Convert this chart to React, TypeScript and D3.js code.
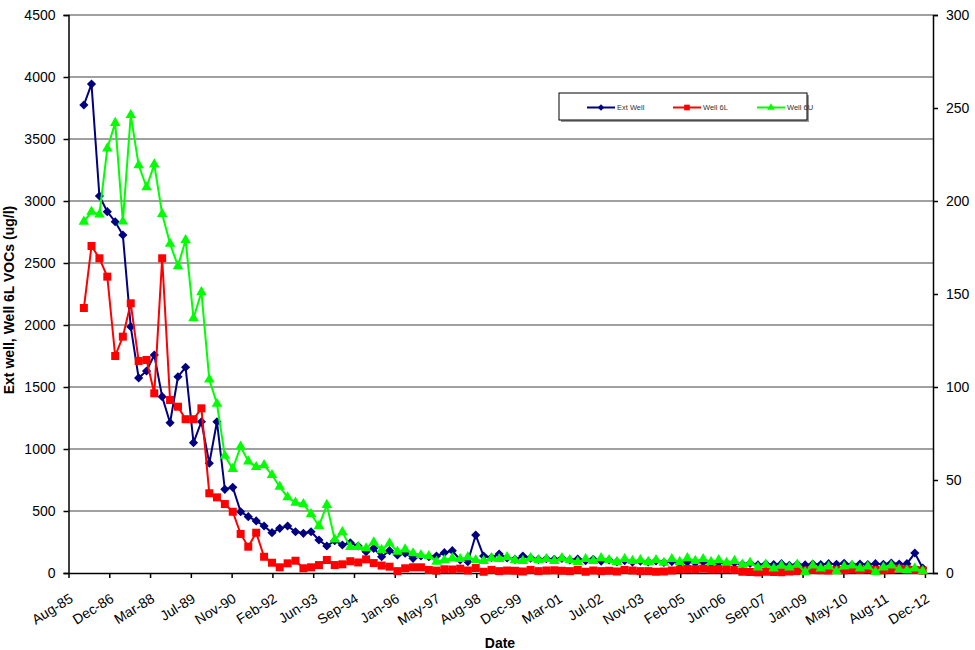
import React, { useRef, useEffect } from "react";
import * as d3 from "d3";

// quarterly sampling, Feb-86 .. Nov-12
const firstSample = new Date(1986, 1, 15);

// Ext Well (ug/l, left axis)
const extWell = [
  3774, 3943, 3040, 2914, 2833, 2726, 1986, 1573, 1629, 1758, 1422, 1212,
  1583, 1659, 1051, 1220, 885, 1220, 675, 691, 494, 454, 420, 379,
  325, 360, 379, 333, 320, 333, 266, 218, 260, 226, 244, 218,
  172, 199, 131, 180, 145, 159, 118, 137, 131, 137, 164, 180,
  105, 91, 306, 137, 125, 153, 121, 110, 137, 120, 110, 115,
  110, 118, 105, 112, 100, 110, 95, 105, 91, 100, 88, 95,
  90, 98, 85, 92, 80, 88, 82, 90, 78, 85, 75, 82,
  70, 78, 65, 72, 68, 75, 62, 70, 65, 72, 68, 75,
  70, 78, 65, 72, 68, 75, 70, 80, 72, 75, 161, 40,
];

// Well 6L (ug/l, left axis)
const well6L = [
  2137, 2637, 2538, 2390, 1750, 1906, 2175, 1710, 1718, 1449, 2538, 1395,
  1341, 1240, 1240, 1328, 643, 610, 556, 494, 315, 212, 325, 131,
  83, 46, 78, 99, 38, 46, 64, 105, 64, 70, 95, 85,
  110, 80, 60, 51, 15, 38, 46, 46, 24, 19, 30, 28,
  35, 20, 40, 10, 25, 15, 20, 18, 12, 25, 15, 20,
  22, 18, 15, 25, 10, 20, 15, 18, 12, 25, 20, 15,
  15, 10, 12, 20, 28, 32, 30, 35, 28, 32, 30, 25,
  10, 8, 5, 10, 8, 6, 12, 15, 20, 25, 22, 20,
  25, 22, 28, 24, 30, 26, 22, 28, 35, 30, 25, 20,
];

// Well 6U (ug/l, right axis)
const well6U = [
  188.9, 194.2, 192.8, 228.3, 242, 189, 246.2, 219.3, 207.4, 219.7, 193, 177,
  165, 179, 137, 151, 104, 91, 63, 56, 68, 60, 57, 58,
  52.7, 46.4, 40.7, 37.8, 37.1, 31.7, 25.3, 36.6, 18, 22, 14, 14,
  13.3, 16.5, 12.4, 16, 11.5, 12.7, 10.6, 9.7, 9.1, 6.1, 7, 8,
  7.5, 8.5, 7, 6.5, 8, 7.5, 8.5, 7, 6.5, 8, 7, 7.5,
  6.5, 8, 7, 6, 7.5, 6.5, 8, 7, 6, 7.5, 6.5, 7,
  6, 7, 5.5, 7.5, 6, 8, 6.5, 7.5, 6, 7, 5.5, 6.5,
  4.5, 5.5, 3, 4.5, 2.5, 4, 3, 4.5, 0.5, 4, 2.5, 3.5,
  1, 3.5, 4, 2.5, 3.5, 0.5, 3, 4, 2, 1.5, 2.5, 1,
];

const seriesNames = ["Ext Well", "Well 6L", "Well 6U"];
const seriesColors = ["#000080", "#ff0000", "#00ff00"];

const leftTicks = [0, 500, 1000, 1500, 2000, 2500, 3000, 3500, 4000, 4500];
const rightTicks = [0, 50, 100, 150, 200, 250, 300];
const xTickStart = new Date(1985, 7, 20);
const xTickDays = 475;
const xTickCount = 22;

const App: React.FC = () => {
  const svgRef = useRef<SVGSVGElement | null>(null);

  useEffect(() => {
    const width = 975;
    const height = 650;
    const left = 68.5;
    const right = 933;
    const top = 15;
    const bottom = 573;
    const font = "Arial, 'Liberation Sans', sans-serif";

    const svg = d3.select(svgRef.current);
    svg.selectAll("*").remove();
    svg.attr("width", width).attr("height", height).style("background", "#fff");

    const dates = extWell.map((_, i) => d3.timeMonth.offset(firstSample, i * 3));

    const x = d3
      .scaleTime()
      .domain([xTickStart, new Date(2013, 2, 15)])
      .range([left, right]);
    const yL = d3.scaleLinear().domain([0, 4500]).range([bottom, top]);
    const yR = d3.scaleLinear().domain([0, 300]).range([bottom, top]);

    // gridlines
    svg
      .append("g")
      .selectAll("line")
      .data(leftTicks.slice(1))
      .join("line")
      .attr("x1", left)
      .attr("x2", right)
      .attr("y1", (d) => yL(d))
      .attr("y2", (d) => yL(d))
      .attr("stroke", "#808080")
      .attr("stroke-width", 1.5);

    // left axis
    const gl = svg
      .append("g")
      .attr("transform", `translate(${left},0)`)
      .call(d3.axisLeft(yL).tickValues(leftTicks).tickFormat(d3.format("d")).tickSize(5).tickPadding(8));
    gl.selectAll("text").style("font", `14px ${font}`).attr("fill", "#000");
    gl.selectAll("line, path").attr("stroke", "#000").attr("stroke-width", 1.5);

    // right axis
    const gr = svg
      .append("g")
      .attr("transform", `translate(${right},0)`)
      .call(d3.axisRight(yR).tickValues(rightTicks).tickFormat(d3.format("d")).tickSize(5).tickPadding(8));
    gr.selectAll("text").style("font", `14px ${font}`).attr("fill", "#000");
    gr.selectAll("line, path").attr("stroke", "#000").attr("stroke-width", 1.5);

    // bottom axis
    const xTicks = d3.range(xTickCount).map((i) => d3.timeDay.offset(xTickStart, i * xTickDays));
    const gb = svg
      .append("g")
      .attr("transform", `translate(0,${bottom})`)
      .call(
        d3
          .axisBottom(x)
          .tickValues(xTicks)
          .tickFormat((d) => d3.timeFormat("%b-%y")(d as Date))
          .tickSize(5)
          .tickSizeOuter(0)
      );
    gb.selectAll("line, path").attr("stroke", "#000").attr("stroke-width", 1.5);
    gb.selectAll("text")
      .style("font", `14px ${font}`)
      .attr("fill", "#000")
      .attr("text-anchor", "end")
      .attr("dy", null)
      .attr("y", 0)
      .attr("transform", "translate(5,28) rotate(-32)");

    // series
    const data = [extWell, well6L];
    const symbols = [d3.symbolSquare, d3.symbolSquare, d3.symbolTriangle];
    const sizes = [42, 64, 48];
    const all = [...data.map((v) => ({ v, y: yL })), { v: well6U, y: yR }];

    all.forEach((s, k) => {
      const g = svg.append("g");
      const line = d3
        .line<number>()
        .x((_, i) => x(dates[i]))
        .y((d) => s.y(d));
      g.append("path")
        .datum(s.v)
        .attr("d", line)
        .attr("fill", "none")
        .attr("stroke", seriesColors[k])
        .attr("stroke-width", 2);
      g.selectAll("path.m")
        .data(s.v)
        .join("path")
        .attr("class", "m")
        .attr("d", d3.symbol().type(symbols[k]).size(sizes[k]))
        .attr(
          "transform",
          (d, i) => `translate(${x(dates[i])},${s.y(d)})${k === 0 ? " rotate(45)" : ""}`
        )
        .attr("fill", seriesColors[k]);
    });

    // legend
    const lg = svg.append("g").attr("transform", "translate(559,93)");
    lg.append("rect").attr("x", 2).attr("y", 2).attr("width", 248).attr("height", 27).attr("fill", "#999");
    lg.append("rect")
      .attr("width", 248)
      .attr("height", 27)
      .attr("fill", "#fff")
      .attr("stroke", "#000")
      .attr("stroke-width", 1);
    const lx = [28, 114, 198];
    seriesNames.forEach((name, k) => {
      const it = lg.append("g").attr("transform", `translate(${lx[k]},14.5)`);
      it.append("line").attr("x1", 0).attr("x2", 28).attr("stroke", seriesColors[k]).attr("stroke-width", 2);
      it.append("path")
        .attr("d", d3.symbol().type(symbols[k]).size(sizes[k] * 0.5))
        .attr("transform", `translate(14,0)${k === 0 ? " rotate(45)" : ""}`)
        .attr("fill", seriesColors[k]);
      it.append("text")
        .attr("x", 30)
        .attr("dy", "0.35em")
        .style("font", `7.5px ${font}`)
        .attr("fill", "#333")
        .text(name);
    });

    // axis titles
    svg
      .append("text")
      .attr("transform", `translate(14,${(top + bottom) / 2 + 6}) rotate(-90)`)
      .attr("text-anchor", "middle")
      .style("font", `bold 14px ${font}`)
      .text("Ext well, Well 6L VOCs (ug/l)");
    svg
      .append("text")
      .attr("x", 500)
      .attr("y", 648)
      .attr("text-anchor", "middle")
      .style("font", `bold 14px ${font}`)
      .text("Date");
  }, []);

  return (
    <div style={{ position: "absolute", left: 0, top: 0 }}>
      <svg ref={svgRef} />
    </div>
  );
};

export default App;
